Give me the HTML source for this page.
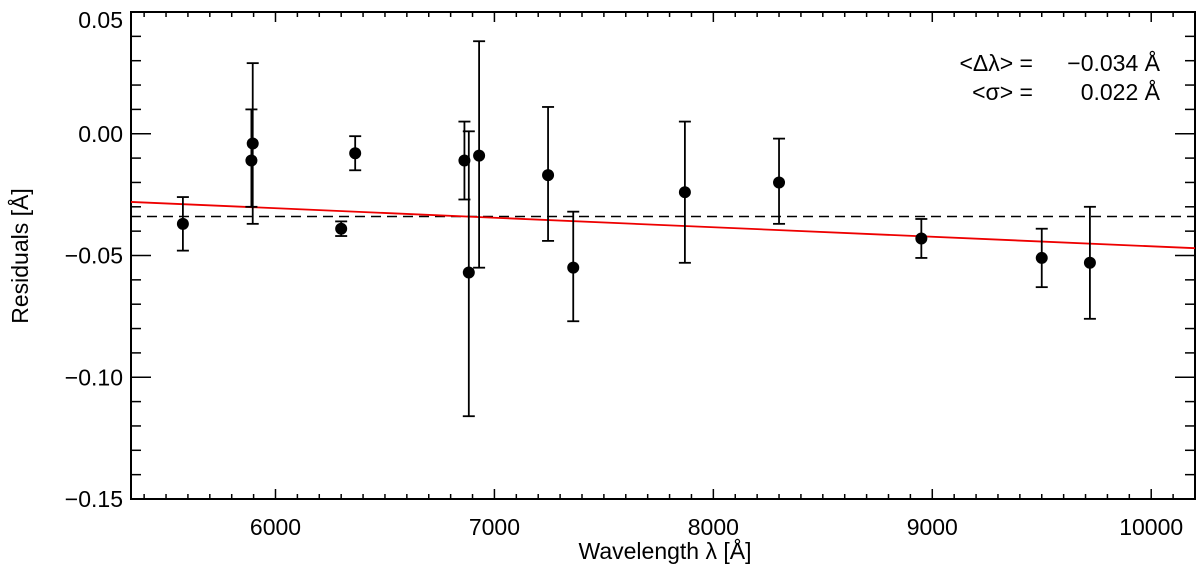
<!DOCTYPE html>
<html><head><meta charset="utf-8"><style>
body{margin:0;background:#fff;}
svg text{font-family:"Liberation Sans",sans-serif;fill:#000;}
</style></head><body>
<svg id="chart" width="1200" height="576">
<g id="axes"></g><g id="marks"></g>
<g>
<text x="1033" y="71" font-size="23" text-anchor="end">&lt;Δλ&gt; =</text>
<text x="1160" y="71" font-size="23" text-anchor="end">−0.034 Å</text></g>
<g>
<text x="1033" y="100" font-size="23" text-anchor="end">&lt;σ&gt; =</text>
<text x="1160" y="100" font-size="23" text-anchor="end">0.022 Å</text></g>
<text x="665" y="559" font-size="23" text-anchor="middle">Wavelength λ [Å]</text>
<text x="0" y="0" font-size="23" text-anchor="middle" transform="translate(28,256) rotate(-90)">Residuals [Å]</text>
</svg>
<script>
const wavelengths=[5577,5890,5896,6300,6364,6863,6883,6930,7245,7360,7870,8300,8950,9500,9720];
const residuals=[-0.037,-0.011,-0.004,-0.039,-0.008,-0.011,-0.057,-0.009,-0.017,-0.055,-0.024,-0.020,-0.043,-0.051,-0.053];
const errHigh=[-0.026,0.010,0.029,-0.036,-0.001,0.005,0.001,0.038,0.011,-0.032,0.005,-0.002,-0.035,-0.039,-0.030];
const errLow=[-0.048,-0.030,-0.037,-0.042,-0.015,-0.027,-0.116,-0.055,-0.044,-0.077,-0.053,-0.037,-0.051,-0.063,-0.076];
const meanOffset=-0.034;
const fitStart=-0.028, fitEnd=-0.047;
const xTicks=[6000,7000,8000,9000,10000];
const yTicks=[0.05,0.00,-0.05,-0.10,-0.15];
const yTickLabels=["0.05","0.00","\u22120.05","\u22120.10","\u22120.15"];
const XMIN=5340,XMAX=10200,YMIN=-0.15,YMAX=0.05;
const L=131,R=1195,T=12,B=499;
const sx=v=>L+(v-XMIN)/(XMAX-XMIN)*(R-L);
const sy=v=>B-(v-YMIN)/(YMAX-YMIN)*(B-T);
const NS='http://www.w3.org/2000/svg';
function mk(tag,attrs,parent){const e=document.createElementNS(NS,tag);for(const k in attrs)e.setAttribute(k,attrs[k]);parent.appendChild(e);return e;}
const ax=document.getElementById('axes'),mg=document.getElementById('marks');
const frame=mk('rect',{x:L,y:T,width:R-L,height:B-T,fill:'none',stroke:'#000','stroke-width':2},ax);


for(let v=5400;v<=XMAX;v+=100){const major=v%1000===0;const len=major?10:5;
 mk('line',{x1:sx(v),x2:sx(v),y1:B,y2:B-len,stroke:'#000','stroke-width':1.5},ax);
 mk('line',{x1:sx(v),x2:sx(v),y1:T,y2:T+len,stroke:'#000','stroke-width':1.5},ax);}
xTicks.forEach(v=>{const t=mk('text',{x:sx(v),y:535,'font-size':23,'text-anchor':'middle'},ax);t.textContent=v;
 
 });
for(let i=0;i<=20;i++){const v=YMIN+i*0.01;const major=i%5===0;const len=major?20:10;
 mk('line',{x1:L,x2:L+len,y1:sy(v),y2:sy(v),stroke:'#000','stroke-width':1.5},ax);
 mk('line',{x1:R,x2:R-len,y1:sy(v),y2:sy(v),stroke:'#000','stroke-width':1.5},ax);}
yTicks.forEach((v,i)=>{const y=Math.max(sy(v),20);const t=mk('text',{x:123,y:y+8,'font-size':23,'text-anchor':'end'},ax);t.textContent=yTickLabels[i];
 
 });
const dash=mk('line',{x1:L,x2:R,y1:sy(meanOffset),y2:sy(meanOffset),stroke:'#000','stroke-width':1.5,'stroke-dasharray':'10,6'},mg);


const fit=mk('line',{x1:L,x2:R,y1:sy(fitStart),y2:sy(fitEnd),stroke:'#e00','stroke-width':1.8},mg);


wavelengths.forEach((w,i)=>{const x=sx(w);
 const g=mk('g',{},mg);
 
 
 mk('line',{x1:x,x2:x,y1:sy(errHigh[i]),y2:sy(errLow[i]),stroke:'#000','stroke-width':1.8},g);
 mk('line',{x1:x-6,x2:x+6,y1:sy(errHigh[i]),y2:sy(errHigh[i]),stroke:'#000','stroke-width':1.8},g);
 mk('line',{x1:x-6,x2:x+6,y1:sy(errLow[i]),y2:sy(errLow[i]),stroke:'#000','stroke-width':1.8},g);
 mk('circle',{cx:x,cy:sy(residuals[i]),r:6,fill:'#000'},g);});
</script>
</body></html>
